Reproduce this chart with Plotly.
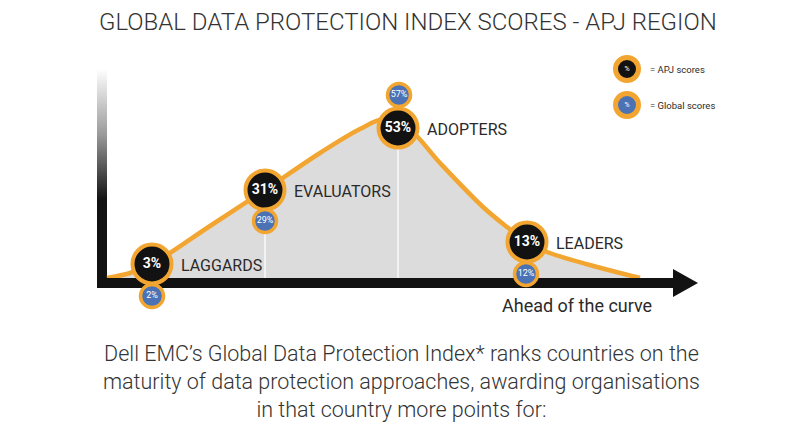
"""
Global Data Protection Index scores - APJ region, as a curve infographic.
"""

import plotly.graph_objects as go

ORANGE = "#f2a631"
BLACK = "#121212"
BLUE = "#4a72b4"
FILL_GREY = "#dcdcdc"
TEXT = "#2a2a2a"

stages = ["LAGGARDS", "EVALUATORS", "ADOPTERS", "LEADERS"]
apj_scores = [3, 31, 53, 13]
global_scores = [2, 29, 57, 12]

# where each stage sits on the curve (pixel space of the 800x423 canvas)
stage_x = [152, 265, 398, 527]
stage_y = [264, 190, 128, 242]
global_x = [152, 265, 399, 526]
global_y = [296, 221, 95, 274]

# adoption curve
curve_x = [107, 130, 152, 210, 265, 320, 360, 385, 410, 440, 483, 507, 527, 547, 590, 640]
curve_y = [278, 273, 264, 226, 190, 153, 129, 119, 130, 163, 207, 227, 242, 252, 265, 278]

BASE = 283

fig = go.Figure()

# ── fading vertical axis (one column of rows, dark at the bottom) ──
rows = list(range(68, 289, 2))
fig.add_trace(go.Heatmap(
    x=[97, 107], y=rows, z=[[r] for r in rows[:-1]],
    colorscale=[[0, "#ffffff"], [0.3, "#9a9a9a"], [0.6, BLACK], [1, BLACK]],
    showscale=False, hoverinfo="skip",
))

# ── area under the curve ──
fig.add_trace(go.Scatter(
    x=[curve_x[0], curve_x[-1]], y=[BASE, BASE], mode="lines",
    line=dict(width=0, color=FILL_GREY), hoverinfo="skip",
))
fig.add_trace(go.Scatter(
    x=curve_x, y=curve_y, mode="lines", fill="tonexty", fillcolor=FILL_GREY,
    line=dict(color=ORANGE, width=4.5, shape="spline", smoothing=1.0),
    hoverinfo="skip",
))

# faint dividers inside the area
for i in (1, 2):
    fig.add_trace(go.Scatter(
        x=[stage_x[i], stage_x[i]], y=[stage_y[i], BASE], mode="lines",
        line=dict(color="rgba(255,255,255,0.85)", width=1.5), hoverinfo="skip",
    ))

# ── horizontal arrow ──
fig.add_trace(go.Scatter(
    x=[97, 673, 673, 698, 673, 673, 97, 97],
    y=[288, 288, 297, 283, 269, 278, 278, 288],
    mode="lines", line=dict(width=0), fill="toself", fillcolor=BLACK,
    hoverinfo="skip",
))

# ── score bubbles ──
fig.add_trace(go.Scatter(
    x=stage_x, y=stage_y, mode="markers+text",
    marker=dict(size=39, color=BLACK, line=dict(color=ORANGE, width=4)),
    text=[f"<b>{v}%</b>" for v in apj_scores], textposition="middle center",
    textfont=dict(family="Roboto", size=14, color="white"),
    hoverinfo="skip",
))
fig.add_trace(go.Scatter(
    x=global_x, y=global_y, mode="markers+text",
    marker=dict(size=23, color=BLUE, line=dict(color=ORANGE, width=3.5)),
    text=[f"{v}%" for v in global_scores], textposition="middle center",
    textfont=dict(family="Roboto", size=9, color="white"),
    hoverinfo="skip",
))

# ── legend ──
fig.add_trace(go.Scatter(
    x=[627, 627], y=[69, 105], mode="markers+text",
    marker=dict(size=23, color=[BLACK, BLUE], line=dict(color=ORANGE, width=5)),
    text=["%", "%"], textposition="middle center",
    textfont=dict(family="Roboto", size=7, color="white"),
    hoverinfo="skip",
))

annotations = []
for name, sx, sy in zip(stages, stage_x, stage_y):
    annotations.append(dict(
        x=sx + 27, y=sy + 1, text=name, xanchor="left", yanchor="middle",
        font=dict(family="Roboto", size=16, color=TEXT), showarrow=False,
    ))
annotations += [
    dict(x=648, y=69, text="= APJ scores", xanchor="left", yanchor="middle",
         font=dict(family="Roboto", size=9.5, color=TEXT), showarrow=False),
    dict(x=648, y=105, text="= Global scores", xanchor="left", yanchor="middle",
         font=dict(family="Roboto", size=9.5, color=TEXT), showarrow=False),
    dict(x=577, y=305, text="Ahead of the curve", xanchor="center", yanchor="middle",
         font=dict(family="Roboto", size=18, color=TEXT), showarrow=False),
    dict(x=408, y=22, text="GLOBAL DATA PROTECTION INDEX SCORES - APJ REGION",
         xanchor="center", yanchor="middle",
         font=dict(family="Roboto", size=24, color="#333333", weight=300), showarrow=False),
    dict(x=401, y=381,
         text="Dell EMC’s Global Data Protection Index* ranks countries on the<br>"
              "maturity of data protection approaches, awarding organisations<br>"
              "in that country more points for:",
         xanchor="center", yanchor="middle", align="center",
         font=dict(family="Roboto", size=21.5, color="#333333", weight=300), showarrow=False),
]

fig.update_layout(
    width=800, height=423,
    margin=dict(l=0, r=0, t=0, b=0),
    paper_bgcolor="white", plot_bgcolor="white",
    showlegend=False,
    annotations=annotations,
    xaxis=dict(range=[0, 800], visible=False, fixedrange=True),
    yaxis=dict(range=[423, 0], visible=False, fixedrange=True),
)

fig.write_html("out.html", config={"displayModeBar": False},
               post_script="document.body.style.margin='0';")
